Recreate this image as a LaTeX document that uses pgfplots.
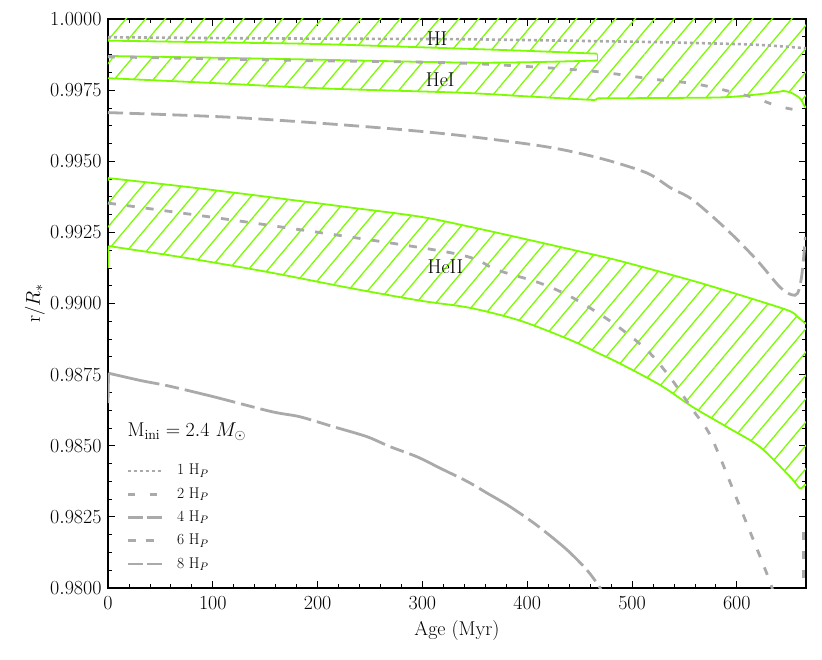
\RequirePackage{fix-cm}
\documentclass[border=0pt]{standalone}
\usepackage{fontspec}
\usepackage{pgfplots}
\pgfplotsset{compat=1.18}
\usetikzlibrary{patterns.meta}
\definecolor{hgreen}{RGB}{124,252,0}
\definecolor{lgray}{RGB}{170,170,170}
\begin{document}
\begin{tikzpicture}
\begin{axis}[
  scale only axis, width=698pt, height=569pt,
  xmin=0, xmax=666, ymin=0.98, ymax=1.0,
  xtick={0,100,200,300,400,500,600}, minor x tick num=4,
  ytick={0.98,0.9825,0.985,0.9875,0.99,0.9925,0.995,0.9975,1.0}, minor y tick num=3,
  scaled y ticks=false,
  yticklabel style={/pgf/number format/fixed, /pgf/number format/fixed zerofill, /pgf/number format/precision=4, xshift=-3pt},
  xticklabel style={yshift=-5pt},
  tick align=inside, major tick length=7pt, minor tick length=4pt,
  every tick/.style={black, line width=0.8pt},
  axis line style={line width=1.1pt},
  tick label style={font=\fontsize{20}{24}\selectfont},
  xlabel={Age (Myr)}, ylabel={r/$R_*$},
  every axis x label/.style={at={(axis description cs:0.5,0)}, anchor=center, yshift=-43pt, font=\fontsize{20}{24}\selectfont},
  every axis y label/.style={at={(axis description cs:-0.1046,0.5)}, anchor=center, rotate=90, font=\fontsize{20}{24}\selectfont},
  legend image code/.code={\draw[#1] (0pt,0pt) -- (34pt,0pt);},
  legend style={at={(axis description cs:0.0215,0.222)}, anchor=north west, draw=none, fill=none,
    font=\fontsize{15.5}{18}\selectfont, legend cell align=left, row sep=9.3pt,
    nodes={inner sep=0pt, text height=11pt, text depth=3pt},
    /tikz/every odd column/.append style={column sep=14pt}},
  bnd/.style={hgreen, line width=1.8pt, smooth, tension=0.5, forget plot},
  hatch/.style={draw=none, pattern={Lines[angle=50, distance=15pt, line width=1.3pt]}, pattern color=hgreen, forget plot},
  gl/.style={lgray, line width=2.8pt, smooth, tension=0.5, forget plot},
]
% ---------- HI + HeI region (fill) ----------
\addplot[hatch] coordinates {
 (0,1.001) (666,1.001) (666,0.99692) (665,0.99692) (660,0.99722) (651,0.99742) (644,0.99747) (640,0.99744) (615,0.99733)
 (589,0.99725) (555,0.99723) (467,0.99721) (465,0.99715) (400,0.99728) (336,0.99741) (205,0.99756) (100,0.99775) (0,0.99792)
 (0,0.99870) (100,0.99864) (200,0.99857) (336,0.99847) (400,0.99848) (467,0.99854)
 (467,0.99878) (400,0.99888) (336,0.99896) (200,0.99912) (100,0.99918) (0,0.99924)
} -- cycle;
% ---------- HeII region (fill) ----------
\addplot[hatch] coordinates {
 (0,0.99441) (75,0.99410) (152,0.99375) (230,0.99338) (298,0.99305) (345,0.99270) (400,0.99225) (450,0.99183) (488,0.99150)
 (555,0.99083) (594,0.99040) (648,0.98977) (658,0.98953) (665,0.98931) (666,0.98931)
 (666,0.98362) (665,0.98362) (660,0.98351) (651,0.98390) (622,0.98496) (591,0.98565) (558,0.98636) (527,0.98713)
 (488,0.98790) (467,0.98827) (441,0.98872) (393,0.98940) (345,0.98985) (298,0.99010) (230,0.99055) (152,0.99111) (75,0.99160) (0.5,0.99202) (0,0.99125)
} -- cycle;
% ---------- boundaries ----------
\addplot[bnd] coordinates {(0,0.99924) (100,0.99918) (200,0.99912) (336,0.99896) (400,0.99888) (467,0.99878)};
\addplot[bnd] coordinates {(0,0.99870) (100,0.99864) (200,0.99857) (336,0.99847) (400,0.99848) (467,0.99854)};
\addplot[hgreen, line width=1.8pt, forget plot] coordinates {(467,0.99854) (467,0.99878)};
\addplot[bnd] coordinates {(0,0.99792) (100,0.99775) (205,0.99756) (336,0.99741) (400,0.99728) (465,0.99715)};
\addplot[hgreen, line width=1.8pt, forget plot] coordinates {(465,0.99715) (467,0.99721)};
\addplot[bnd] coordinates {(467,0.99721) (555,0.99723) (589,0.99725) (615,0.99733) (640,0.99744) (644,0.99747) (651,0.99742) (660,0.99722) (665,0.99692) (666,0.99692)};
\addplot[bnd] coordinates {(0,0.99441) (75,0.99410) (152,0.99375) (230,0.99338) (298,0.99305) (345,0.99270) (400,0.99225) (450,0.99183) (488,0.99150)
 (555,0.99083) (594,0.99040) (648,0.98977) (658,0.98953) (665,0.98931) (666,0.98931)};
\addplot[hgreen, line width=1.8pt, forget plot] coordinates {(0,0.99125) (0.5,0.99202)};
\addplot[bnd] coordinates {(0.5,0.99202) (75,0.99160) (152,0.99111) (230,0.99055) (298,0.99010) (345,0.98985) (393,0.98940) (441,0.98872)
 (467,0.98827) (488,0.98790) (527,0.98713) (558,0.98636) (591,0.98565) (622,0.98496) (651,0.98390) (660,0.98351) (665,0.98362) (666,0.98362)};
% ---------- gray lines ----------
\addplot[gl, line width=2.6pt, dash pattern=on 3pt off 3pt] coordinates {
 (0,0.99936) (100,0.99933) (200,0.99931) (336,0.99929) (450,0.99923) (519,0.99919) (615,0.99910) (666,0.99897)};
\addplot[gl, dash pattern=on 7pt off 15pt] coordinates {
 (0,0.99867) (100,0.99860) (200,0.99853) (336,0.99845) (455,0.99819) (519,0.99789) (557,0.99774) (580,0.99757)
 (599,0.99740) (618,0.99722) (638,0.99695) (657,0.99680) (666,0.99678)};
\addplot[gl, dash pattern=on 15pt off 6.5pt] coordinates {
 (0,0.99671) (120,0.99654) (248,0.99621) (333,0.99592) (418,0.99551) (470,0.99510) (514,0.99459) (537,0.99406)
 (558,0.99364) (591,0.99258) (619,0.99153) (641,0.99058) (652,0.99031) (658,0.99036) (662,0.99100) (665.5,0.99234)};
\addplot[gl, dash pattern=on 8pt off 11pt] coordinates {
 (0,0.99353) (152,0.99276) (329,0.99177) (371,0.99118) (412,0.99072) (444,0.99019) (482,0.98931) (514,0.98837)
 (536,0.98742) (558,0.98626) (576,0.98527) (603,0.98285) (632,0.98018) (636,0.9795)};
\addplot[lgray, line width=2.8pt, dash pattern=on 8pt off 11pt, forget plot] coordinates {(663.5,0.9790) (663.5,0.98204)};
\addplot[lgray, line width=2.8pt, forget plot] coordinates {(0,0.98650) (0.5,0.98755)};
\addplot[gl, dash pattern=on 52pt off 6pt on 14pt off 6pt] coordinates {
 (0.5,0.98755) (31.5,0.98729) (58,0.98710) (101,0.98672) (156,0.98620) (183,0.98602) (215,0.98567) (247,0.98532) (269,0.98497)
 (295,0.98461) (317,0.98421) (343,0.98374) (362,0.98333) (381,0.98292) (400,0.98245) (415,0.98204) (438,0.98134)
 (457,0.98063) (469.5,0.98000) (472,0.9797)};
% ---------- labels ----------
\node[font=\fontsize{20}{24}\selectfont] at (axis cs:314,0.99930) {HI};
\node[font=\fontsize{20}{24}\selectfont] at (axis cs:317,0.99786) {HeI};
\node[font=\fontsize{20}{24}\selectfont] at (axis cs:322,0.99128) {HeII};
\node[anchor=west, font=\fontsize{20}{24}\selectfont] at (axis description cs:0.0229,0.2742) {$\mathrm{M}_{\mathrm{ini}} = 2.4\ M_{\odot}$};
% ---------- legend ----------
\addlegendimage{lgray, line width=2.6pt, dash pattern=on 3pt off 3pt}
\addlegendentry{1 H$_P$}
\addlegendimage{lgray, line width=2.8pt, dash pattern=on 7pt off 15pt}
\addlegendentry{2 H$_P$}
\addlegendimage{lgray, line width=2.8pt, dash pattern=on 15pt off 4pt}
\addlegendentry{4 H$_P$}
\addlegendimage{lgray, line width=2.8pt, dash pattern=on 8pt off 10pt}
\addlegendentry{6 H$_P$}
\addlegendimage{lgray, line width=2.8pt, dash pattern=on 15pt off 4pt}
\addlegendentry{8 H$_P$}
\end{axis}
\path ([shift={(-108pt,-71pt)}]current axis.south west) rectangle ([shift={(16pt,19pt)}]current axis.north east);
\end{tikzpicture}
\end{document}
